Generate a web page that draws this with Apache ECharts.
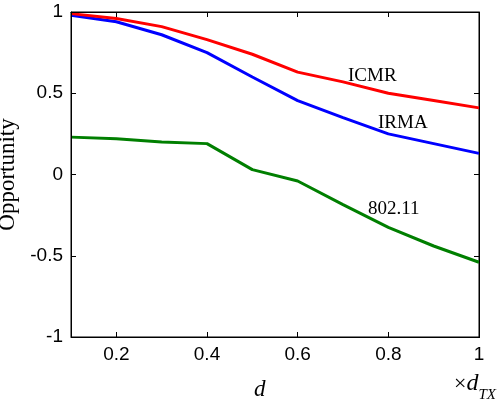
<!DOCTYPE html>
<html>
<head>
<meta charset="utf-8">
<script src="https://cdn.jsdelivr.net/npm/echarts@6/dist/echarts.min.js"></script>
<style>
  html, body { margin: 0; padding: 0; background: #fff; }
  #wrap { position: relative; width: 504px; height: 406px; }
  #chart { width: 504px; height: 406px; }
  #frame { position: absolute; left: 71px; top: 12px; width: 409px; height: 326px; box-sizing: border-box; border: 1px solid #000; pointer-events: none; }
  .lbl { position: absolute; font-family: 'Liberation Serif', 'Times New Roman', serif; color: #000; line-height: 1; white-space: nowrap; }
</style>
</head>
<body>
<div id="wrap">
  <div id="chart"></div>
  <div id="frame"></div>
  <div class="lbl" style="left:348px; top:65px; font-size:19px;">ICMR</div>
  <div class="lbl" style="left:378px; top:112px; font-size:19px;">IRMA</div>
  <div class="lbl" style="left:368px; top:198px; font-size:19px;">802.11</div>
  <div class="lbl" style="left:254px; top:377px; font-size:23px; font-style:italic;">d</div>
  <div class="lbl" style="left:454px; top:370px; font-size:22px;">×<i style="font-size:24px;">d</i><i style="font-size:15px; position:relative; top:9px;">TX</i></div>
</div>
<script>
// distance as a fraction of d_TX
const distances = [0.1, 0.2, 0.3, 0.4, 0.5, 0.6, 0.7, 0.8, 0.9, 1.0];
const icmr = [0.99, 0.96, 0.91, 0.83, 0.74, 0.63, 0.57, 0.50, 0.455, 0.41];
const irma = [0.98, 0.94, 0.86, 0.75, 0.60, 0.455, 0.35, 0.25, 0.19, 0.13];
const wifi = [0.23, 0.22, 0.20, 0.19, 0.03, -0.04, -0.185, -0.325, -0.44, -0.54];
const xTicks = [0.2, 0.4, 0.6, 0.8, 1];

function pairs(values) {
  return distances.map((d, i) => [d, values[i]]);
}

document.addEventListener("DOMContentLoaded", function () {
  const chart = echarts.init(document.getElementById("chart"));
  const tickFont = "'Liberation Sans', Arial, sans-serif";
  const serif = "'Liberation Serif', 'Times New Roman', serif";

  chart.setOption({
    animation: false,
    grid: { left: 71, right: 25, top: 12, bottom: 69, show: true, borderColor: "#000", outerBoundsMode: "none" },
    xAxis: [
      {
        type: "value", position: "bottom", min: 0.1, max: 1,
        axisLine: { onZero: false, lineStyle: { color: "#000" } },
        axisTick: { show: true, inside: true, customValues: xTicks },
        axisLabel: { customValues: xTicks, color: "#000", fontSize: 19, fontFamily: tickFont, margin: 8 },
        splitLine: { show: false },
      },
      {
        type: "value", position: "top", min: 0.1, max: 1,
        axisLine: { onZero: false, lineStyle: { color: "#000" } },
        axisTick: { show: true, inside: true, customValues: xTicks },
        axisLabel: { show: false },
        splitLine: { show: false },
      },
    ],
    yAxis: [
      {
        type: "value", position: "left", min: -1, max: 1, interval: 0.5,
        axisLine: { show: true, lineStyle: { color: "#000" } },
        axisTick: { show: true, inside: true },
        axisLabel: { color: "#000", fontSize: 19, fontFamily: tickFont, margin: 8 },
        splitLine: { show: false },
        name: "Opportunity",
        nameLocation: "middle",
        nameGap: 29,
        nameTextStyle: { color: "#000", fontSize: 23, fontFamily: serif },
      },
      {
        type: "value", position: "right", min: -1, max: 1, interval: 0.5,
        axisLine: { show: true, lineStyle: { color: "#000" } },
        axisTick: { show: true, inside: true },
        axisLabel: { show: false },
        splitLine: { show: false },
      },
    ],
    series: [
      { name: "802.11", type: "line", data: pairs(wifi), symbol: "none", lineStyle: { color: "#007f00", width: 3 } },
      { name: "IRMA", type: "line", data: pairs(irma), symbol: "none", lineStyle: { color: "#0000ff", width: 3 } },
      { name: "ICMR", type: "line", data: pairs(icmr), symbol: "none", lineStyle: { color: "#ff0000", width: 3 } },
    ],
  });
});
</script>
</body>
</html>
